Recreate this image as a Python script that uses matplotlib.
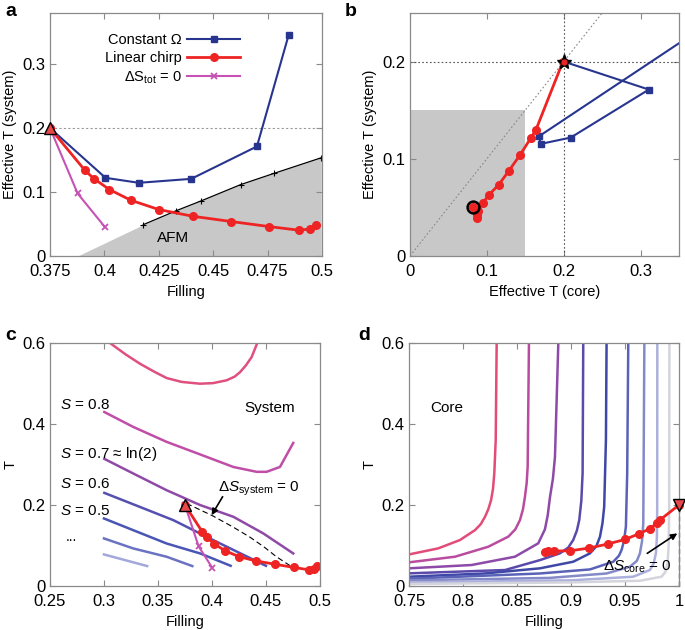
"""
Four-panel figure: effective temperature of system and core
during the loading ramp (panels a-d).
"""

import matplotlib
matplotlib.use("Agg")  # no display, just save the png
import matplotlib.pyplot as plt

plt.rcParams["font.family"] = ["Liberation Sans", "DejaVu Sans"]
plt.rcParams["mathtext.fontset"] = "custom"
plt.rcParams["mathtext.rm"] = "Liberation Sans"
plt.rcParams["mathtext.it"] = "Liberation Sans:italic"
plt.rcParams["font.size"] = 11

# ---------------- data ----------------
# panel a / c : filling vs effective T (system)
const_fill = [0.375, 0.4005, 0.4158, 0.4399, 0.4701, 0.4847]
const_tsys = [0.200, 0.1222, 0.1144, 0.1206, 0.1713, 0.346]

chirp_fill = [0.375, 0.3911, 0.3951, 0.4023, 0.4121, 0.4250, 0.4406,
              0.4584, 0.4756, 0.4896, 0.4945, 0.4974]
chirp_tsys = [0.200, 0.1337, 0.1211, 0.1039, 0.0872, 0.0726, 0.0621,
              0.0538, 0.0460, 0.0402, 0.0423, 0.0491]

dstot_fill = [0.375, 0.3877, 0.4002]
dstot_tsys = [0.200, 0.0977, 0.0454]

afm_fill = [0.4179, 0.4328, 0.4445, 0.4627, 0.4778, 0.4996]
afm_t    = [0.049, 0.0705, 0.0862, 0.1117, 0.129, 0.1535]
afm_edge_start = 0.3877   # where the grey AFM region meets T = 0

# panel b : effective T (core) vs effective T (system)
chirp_tcore = [0.199, 0.164, 0.1576, 0.1433, 0.1286, 0.1156, 0.1022,
               0.0944, 0.0887, 0.0866, 0.0875, 0.0823]
chirp_tsys_b = [0.200, 0.130, 0.1218, 0.104, 0.0875, 0.0734, 0.0624,
                0.0542, 0.0463, 0.0394, 0.0423, 0.050]
const_tcore = [0.200, 0.3108, 0.2091, 0.1701, 0.168, 0.59]
const_tsys_b = [0.200, 0.1712, 0.1218, 0.1153, 0.1232, 0.345]
afm_box = 0.15

# panel c : isentropes of the system
c_curves = [
    ([0.3056, 0.32, 0.3333, 0.346, 0.358, 0.372, 0.3889, 0.401, 0.4136,
      0.421, 0.426, 0.4315, 0.4367, 0.442],
     [0.600, 0.572, 0.549, 0.530, 0.5136, 0.504, 0.4996, 0.501, 0.508,
      0.517, 0.528, 0.545, 0.565, 0.600]),
    ([0.3003, 0.327, 0.358, 0.389, 0.4198, 0.4414, 0.4506, 0.463, 0.4753],
     [0.4297, 0.393, 0.356, 0.325, 0.294, 0.282, 0.282, 0.294, 0.3533]),
    ([0.3003, 0.327, 0.358, 0.389, 0.4198, 0.4475, 0.4753],
     [0.314, 0.278, 0.2366, 0.200, 0.171, 0.130, 0.0805]),
    ([0.3003, 0.333, 0.3642, 0.4043, 0.450],
     [0.230, 0.1956, 0.1627, 0.1093, 0.050]),
    ([0.300, 0.327, 0.358, 0.389, 0.4173],
     [0.1668, 0.138, 0.105, 0.0805, 0.050]),
    ([0.300, 0.327, 0.358, 0.3818],
     [0.1175, 0.0929, 0.0723, 0.0493]),
    ([0.300, 0.340],
     [0.078, 0.0493]),
]
c_colors = ["#e0507e", "#c04ea6", "#8f4aa8", "#5550b0", "#4a56b4",
            "#6a72c2", "#a2a8da"]
c_labels = [r"$S$ = 0.8", r"$S$ = 0.7 ≈ ln(2)", r"$S$ = 0.6", r"$S$ = 0.5"]
c_label_t = [0.447, 0.326, 0.251, 0.185]

dssys_fill = [0.3765, 0.4012, 0.420, 0.435, 0.448, 0.4599, 0.4738]
dssys_t    = [0.204, 0.1726, 0.145, 0.121, 0.097, 0.072, 0.0477]

# panel d : isentropes of the core
d_curves = [
    ([0.75, 0.7771, 0.7972, 0.8111, 0.8165, 0.8204, 0.8235, 0.826, 0.8278,
      0.829, 0.8303, 0.8312],
     [0.078, 0.093, 0.1136, 0.138, 0.153, 0.171, 0.190, 0.212, 0.240,
      0.278, 0.36, 0.600]),
    ([0.75, 0.7926, 0.8234, 0.842, 0.8485, 0.8528, 0.8556, 0.8574, 0.8590,
      0.8599, 0.8611],
     [0.0585, 0.0724, 0.097, 0.122, 0.140, 0.163, 0.190, 0.2205, 0.255,
      0.2946, 0.600]),
    ([0.75, 0.808, 0.8481, 0.8697, 0.8759, 0.8785, 0.8806, 0.8833, 0.8852,
      0.8883],
     [0.0437, 0.0519, 0.0724, 0.1054, 0.140, 0.175, 0.220, 0.265, 0.319,
      0.600]),
    ([0.75, 0.8389, 0.8713, 0.8898, 0.8975, 0.9021, 0.9055, 0.9077, 0.9096,
      0.9108, 0.9114],
     [0.0313, 0.0395, 0.064, 0.0807, 0.095, 0.1136, 0.137, 0.163, 0.210,
      0.278, 0.600]),
    ([0.75, 0.82, 0.8713, 0.9021, 0.9176, 0.9235, 0.9269, 0.9292, 0.9308,
      0.9324, 0.933],
     [0.023, 0.031, 0.0437, 0.060, 0.0807, 0.098, 0.1218, 0.155, 0.196,
      0.36, 0.600]),
    ([0.75, 0.8713, 0.9176, 0.9392, 0.9445, 0.9469, 0.9492, 0.9509, 0.9521,
      0.9531],
     [0.018, 0.031, 0.041, 0.060, 0.075, 0.089, 0.112, 0.1465, 0.278,
      0.600]),
    ([0.75, 0.88, 0.933, 0.9546, 0.9610, 0.9639, 0.9658, 0.967, 0.968],
     [0.014, 0.020, 0.031, 0.0477, 0.062, 0.0807, 0.110, 0.155, 0.600]),
    ([0.75, 0.90, 0.9577, 0.9731, 0.9765, 0.9787, 0.9796, 0.9799, 0.980],
     [0.009, 0.014, 0.023, 0.0395, 0.055, 0.0807, 0.120, 0.196, 0.600]),
    ([0.75, 0.90, 0.9639, 0.984, 0.9875, 0.9895, 0.9905, 0.991, 0.9912],
     [0.005, 0.009, 0.013, 0.023, 0.035, 0.056, 0.100, 0.196, 0.600]),
]
d_colors = ["#e34b78", "#b94c9e", "#8e4aa8", "#5b4aab", "#3f48a6",
            "#5a62b8", "#8489c8", "#adb0dc", "#d4d4dc"]

core_fill = [1.0, 0.9824, 0.9799, 0.9731, 0.963, 0.950, 0.934, 0.917,
             0.8991, 0.8843, 0.879, 0.8759]
core_t    = [0.200, 0.163, 0.156, 0.1415, 0.129, 0.115, 0.1037, 0.0938,
             0.087, 0.0864, 0.087, 0.083]

# ticks
a_xticks = [0.375, 0.4, 0.425, 0.45, 0.475, 0.5]
a_xlabels = ["0.375", "0.4", "0.425", "0.45", "0.475", "0.5"]
a_yticks = [0, 0.1, 0.2, 0.3]
b_ticks = [0, 0.1, 0.2, 0.3]
c_xticks = [0.25, 0.3, 0.35, 0.4, 0.45, 0.5]
d_xticks = [0.75, 0.8, 0.85, 0.9, 0.95, 1.0]
cd_yticks = [0, 0.2, 0.4, 0.6]

# ---------------- styles ----------------
BLUE = "#28358f"
RED = "#ee2424"
MAG = "#c652b4"
GREY = "#c8c8c8"
SPINE = "#8a8a8a"
LABEL_FS = 10.5


def style_axes(ax, xticks, yticks, xlabels=None, ylabels=None):
    ax.set_xticks(xticks)
    ax.set_yticks(yticks)
    ax.set_xticklabels(xlabels or [f"{t:g}" for t in xticks])
    ax.set_yticklabels(ylabels or [f"{t:g}" for t in yticks])
    ax.tick_params(direction="in", top=True, right=True, length=4,
                   color=SPINE, labelsize=12)
    ax.tick_params(axis="x", pad=6)
    ax.tick_params(axis="y", pad=3)
    for s in ax.spines.values():
        s.set_color(SPINE)
        s.set_linewidth(0.9)


def start_marker(ax, x, y, marker="^"):
    ax.plot(x, y, marker=marker, ms=9, mfc="#e8474a", mec="black",
            mew=1.0, zorder=10, clip_on=False)


fig = plt.figure(figsize=(6.85, 6.3), dpi=100)
ax_a = fig.add_axes([0.073, 0.5937, 0.3971, 0.3857])
ax_b = fig.add_axes([0.5985, 0.5937, 0.3927, 0.3857])
ax_c = fig.add_axes([0.073, 0.0698, 0.394, 0.3857])
ax_d = fig.add_axes([0.5971, 0.0698, 0.394, 0.3857])

# ---- a ----
ax = ax_a
ax.fill_between([afm_edge_start] + afm_fill, 0, [0] + afm_t,
                color=GREY, lw=0, zorder=0)
ax.plot(afm_fill, afm_t, color="black", lw=0.9, marker="+", ms=5, mew=0.8)
ax.axhline(0.2, color="#999999", ls=(0, (2, 2)), lw=0.8)
ax.plot(const_fill, const_tsys, color=BLUE, lw=1.5, marker="s", ms=4.5,
        label="Constant Ω")
ax.plot(chirp_fill, chirp_tsys, color=RED, lw=2, marker="o", ms=5.5,
        label="Linear chirp")
ax.plot(dstot_fill, dstot_tsys, color=MAG, lw=1.5, marker="x", ms=5,
        mew=1.3, label=r"$\Delta\mathrm{S}_{\mathrm{tot}}$ = 0")
start_marker(ax, chirp_fill[0], chirp_tsys[0])
ax.text(0.4317, 0.028, "AFM", ha="center", va="center", fontsize=11)
ax.set_xlim(0.375, 0.5)
ax.set_ylim(0, 0.38)
style_axes(ax, a_xticks, a_yticks, a_xlabels)
ax.set_xlabel("Filling", fontsize=LABEL_FS)
ax.set_ylabel("Effective T (system)", fontsize=LABEL_FS)
ax.legend(loc="upper right", bbox_to_anchor=(0.73, 0.955), frameon=False,
          markerfirst=False, handlelength=3.6, fontsize=10.5,
          labelspacing=0.3, borderaxespad=0.2, handletextpad=0.4)
for t in ax.get_legend().get_texts():
    t.set_ha("right")
ax.get_legend()._legend_box.align = "right"

# ---- b ----
ax = ax_b
ax.fill_between([0, afm_box], 0, afm_box, color=GREY, lw=0, zorder=0)
ax.plot([0, 0.35], [0, 0.35], color="#888888", ls=(0, (1.5, 2)), lw=0.8)
ax.axhline(0.2, color="#555555", ls=(0, (1.5, 2)), lw=0.8)
ax.axvline(0.2, color="#555555", ls=(0, (1.5, 2)), lw=0.8)
ax.plot(const_tcore, const_tsys_b, color=BLUE, lw=1.5, marker="s", ms=4.5)
ax.plot(chirp_tcore, chirp_tsys_b, color=RED, lw=2, marker="o", ms=5.5)
ax.plot(0.2, 0.2, marker="*", ms=11, color="black", zorder=10)
ax.plot(0.2, 0.2, marker="o", ms=3.5, color=RED, zorder=11)
ax.plot(chirp_tcore[-1], chirp_tsys_b[-1], marker="o", ms=8.5, mfc="none",
        mec="black", mew=1.8, zorder=10)
ax.plot(chirp_tcore[-1], chirp_tsys_b[-1], marker="o", ms=3, color=RED,
        zorder=11)
ax.set_xlim(0, 0.35)
ax.set_ylim(0, 0.25)
style_axes(ax, b_ticks, b_ticks[:3])
ax.set_xlabel("Effective T (core)", fontsize=LABEL_FS)
ax.set_ylabel("Effective T (system)", fontsize=LABEL_FS)

# ---- c ----
ax = ax_c
for (xs, ys), col in zip(c_curves, c_colors):
    ax.plot(xs, ys, color=col, lw=1.8)
ax.plot(dssys_fill, dssys_t, color="black", ls=(0, (5, 3)), lw=0.8)
ax.plot(dstot_fill, dstot_tsys, color=MAG, lw=1.5, marker="x", ms=5,
        mew=1.3)
ax.plot(chirp_fill, chirp_tsys, color=RED, lw=2, marker="o", ms=5.5)
start_marker(ax, chirp_fill[0], chirp_tsys[0])
for lab, t in zip(c_labels, c_label_t):
    ax.text(0.2593, t, lab, ha="left", va="center", fontsize=11)
ax.text(0.2695, 0.121, "...", ha="center", va="center", fontsize=10)
ax.text(0.4537, 0.439, "System", ha="center", va="center", fontsize=11)
ax.annotate("", xy=(0.3997, 0.175), xytext=(0.4099, 0.2205),
            arrowprops=dict(arrowstyle="-|>", color="black", lw=1.2,
                            mutation_scale=9, shrinkA=0, shrinkB=0))
ax.text(0.4435, 0.241, r"$\Delta S_{\mathrm{system}}$ = 0", ha="center",
        va="center", fontsize=11)
ax.set_xlim(0.25, 0.5)
ax.set_ylim(0, 0.6)
style_axes(ax, c_xticks, cd_yticks)
ax.set_xlabel("Filling", fontsize=LABEL_FS)
ax.set_ylabel("T", fontsize=LABEL_FS)

# ---- d ----
ax = ax_d
for (xs, ys), col in zip(d_curves, d_colors):
    ax.plot(xs, ys, color=col, lw=1.8)
ax.plot([1.0, 1.0], [0, 0.2], color="black", ls=(0, (4, 2.5)), lw=0.9,
        clip_on=False)
ax.plot(core_fill, core_t, color=RED, lw=2, marker="o", ms=5.5,
        clip_on=False)
start_marker(ax, core_fill[0], core_t[0], marker="v")
ax.annotate("", xy=(0.9985, 0.13), xytext=(0.9707, 0.0807),
            arrowprops=dict(arrowstyle="-|>", color="black", lw=1.2,
                            mutation_scale=9, shrinkA=0, shrinkB=0))
ax.text(0.9616, 0.048, r"$\Delta S_{\mathrm{core}}$ = 0", ha="center",
        va="center", fontsize=11)
ax.text(0.7849, 0.439, "Core", ha="center", va="center", fontsize=11)
ax.set_xlim(0.75, 1.0)
ax.set_ylim(0, 0.6)
style_axes(ax, d_xticks, cd_yticks)
ax.set_xlabel("Filling", fontsize=LABEL_FS)
ax.set_ylabel("T", fontsize=LABEL_FS)

# panel letters
for lab, (x, y) in zip("abcd", [(5, 12), (345, 12), (5, 335), (358, 335)]):
    fig.text(x / 685, 1 - y / 630, lab, fontsize=14, fontweight="bold",
             ha="left", va="center")

fig.savefig("out.png", dpi=100)
